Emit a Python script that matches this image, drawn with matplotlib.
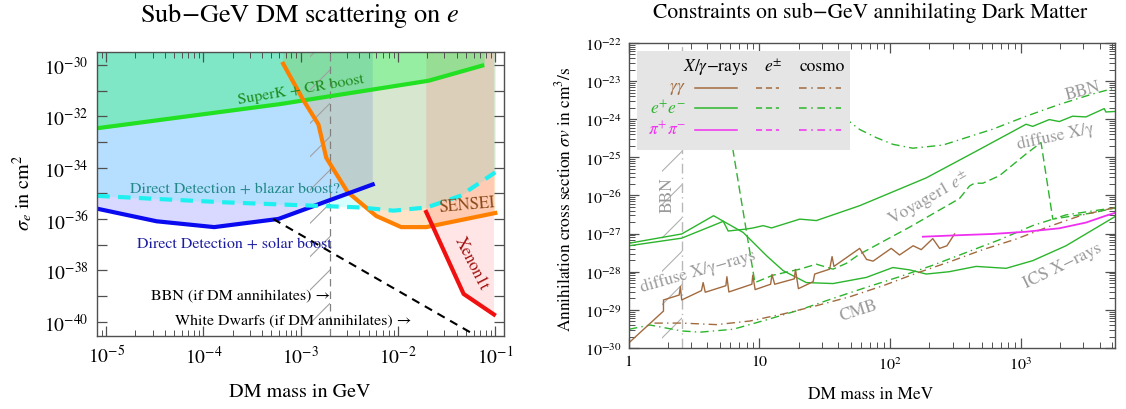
import numpy as np
import matplotlib
matplotlib.use("Agg")
import matplotlib.pyplot as plt
from matplotlib.ticker import FixedLocator, FuncFormatter, LogLocator, NullFormatter
from matplotlib.patches import Rectangle

plt.rcParams['font.family'] = ['STIXGeneral', 'DejaVu Serif']
plt.rcParams['mathtext.fontset'] = 'stix'
plt.rcParams['hatch.linewidth'] = 0.8

# ---------------- Left panel data (mass in GeV, sigma_e in cm^2) ----------------
superk_m = [8.1e-6, 6.1e-4, 2.06e-2, 7.7e-2]
superk_s = [3.4e-33, 2.95e-32, 2.4e-31, 9.8e-31]

sensei_m = [6.6e-4, 1.06e-3, 1.52e-3, 1.83e-3, 3.04e-3, 5.98e-3, 1.08e-2, 1.95e-2, 0.1]
sensei_s = [1.1e-30, 4.3e-32, 4.8e-33, 2.4e-34, 1.1e-35, 1.3e-36, 4.8e-37, 4.8e-37, 1.7e-36]

solar_m = [8.1e-6, 3.3e-5, 1.29e-4, 5.9e-4, 5.5e-3]
solar_s = [2.5e-36, 8.1e-37, 4.8e-37, 1.0e-36, 2.2e-35]

blazar_m = [8.1e-6, 3.6e-5, 1.73e-4, 8.4e-4, 4.1e-3, 9.0e-3, 1.98e-2, 4.36e-2, 0.1]
blazar_s = [7.9e-36, 5.9e-36, 4.4e-36, 3.5e-36, 2.8e-36, 2.1e-36, 2.8e-36, 7.9e-36, 6.5e-35]

xenon_m = [1.95e-2, 4.73e-2, 9.7e-2]
xenon_s = [1.86e-36, 1.2e-39, 1.9e-40]

wd_m = [5.2e-4, 5.5e-2]
wd_s = [1.0e-36, 3.9e-41]

bbn_left = [1.25e-3, 2.0e-3]

# ---------------- Right panel data (mass in MeV, sigma v in cm^3/s) ----------------
ee_xray_m = [1.01, 2.55, 5.3, 5.78, 7.98, 8.97, 10.7, 12.4, 20.4, 27.3, 58.5, 189, 455,
             1096, 1230, 1648, 1968, 2483, 3141, 4335, 4467, 5250]
ee_xray_s = [4.8e-28, 7.6e-28, 2.1e-27, 1.17e-27, 1.32e-27, 1.41e-27, 1.62e-27, 1.41e-27,
             2.4e-27, 2.2e-27, 5.4e-27, 2.9e-26, 1.45e-25, 7.4e-25, 6.5e-25, 9.8e-25,
             8.7e-25, 1.2e-24, 1.15e-24, 1.9e-24, 1.55e-24, 1.6e-24]

ee_ics_m = [1.01, 2.55, 4.47, 7.53, 11.4, 15.2, 22.9, 36.6, 65.8, 105, 141, 189, 282,
            455, 771, 1230, 2213, 5250]
ee_ics_s = [5.6e-28, 9.8e-28, 2.95e-27, 1.07e-27, 2.6e-28, 1.07e-28, 5.2e-29, 4.9e-29,
            7.1e-29, 1.29e-28, 1.12e-28, 8.7e-29, 1.0e-28, 1.38e-28, 1.23e-28, 1.95e-28,
            4.8e-28, 2.8e-27]

ee_voy_m = [5.62, 9.25, 12.7, 20.4, 27.3, 36.6, 46.3, 58.5, 141, 339, 405, 442, 512,
            685, 1096, 1426, 1754, 2630, 3532, 5250]
ee_voy_s = [1.6e-24, 5.2e-29, 8.1e-29, 1.17e-28, 1.58e-28, 1.17e-28, 1.66e-28, 2.9e-28,
            1.48e-27, 8.3e-27, 1.78e-26, 2.1e-26, 2.1e-26, 3.3e-26, 1.23e-25, 2.45e-25,
            2.4e-27, 3.0e-27, 3.5e-27, 4.7e-27]

ee_bbn_m = [44.7, 58.5, 78.3, 105, 149, 253, 610, 1096, 1968, 3532, 5250]
ee_bbn_s = [1.1e-24, 5.4e-25, 3.3e-25, 2.2e-25, 1.74e-25, 2.1e-25, 5.5e-25, 1.2e-24,
            2.45e-24, 4.6e-24, 6.6e-24]

ee_cmb_m = [1.01, 1.46, 2.55, 3.52, 6.31, 11.4, 20.4, 36.6, 65.8, 118, 212, 382, 686,
            1230, 2213, 5250]
ee_cmb_s = [3.1e-30, 4.0e-30, 2.8e-30, 2.6e-30, 3.1e-30, 5.5e-30, 1.0e-29, 2.0e-29,
            3.9e-29, 7.4e-29, 1.48e-28, 3.2e-28, 6.9e-28, 1.62e-27, 3.1e-27, 4.8e-27]

gg_cmb_m = [1.58, 2.55, 4.71, 8.47, 15.2, 27.4, 49.1, 88.3, 158, 285, 512, 920, 1652,
            2965, 5250]
gg_cmb_s = [4.5e-30, 4.5e-30, 4.1e-30, 5.1e-30, 7.8e-30, 1.29e-29, 2.2e-29, 4.3e-29,
            9.1e-29, 1.82e-28, 3.8e-28, 7.2e-28, 1.55e-27, 3.1e-27, 4.8e-27]

gg_xray_m = [1.01, 1.85, 1.85, 2.44, 2.49, 2.55, 3.61, 3.72, 3.86, 5.55, 5.65, 5.85,
             8.77, 8.91, 9.29, 12.2, 12.5, 13.1, 18.5, 18.9, 19.9, 25.8, 26.5, 34.5,
             36.0, 37.2, 58.5, 66.1, 74.1, 102, 118, 150, 173, 212, 239, 272, 311]
gg_xray_s = [1.38e-30, 9.3e-30, 1.82e-29, 2.45e-29, 4.1e-29, 1.82e-29, 3.2e-29, 5.2e-29,
             2.9e-29, 4.3e-29, 7.4e-29, 2.95e-29, 4.7e-29, 8.1e-29, 3.4e-29, 4.7e-29,
             8.5e-29, 4.7e-29, 6.5e-29, 1.15e-28, 3.6e-29, 5.5e-29, 8.7e-29, 1.17e-28,
             2.5e-28, 1.38e-28, 4.1e-28, 2.1e-28, 1.9e-28, 4.1e-28, 2.75e-28, 4.8e-28,
             3.8e-28, 7.4e-28, 4.1e-28, 4.8e-28, 9.8e-28]

pipi_xray_m = [178, 339, 610, 1096, 1968, 3148, 4467, 5250]
pipi_xray_s = [8.3e-28, 9.1e-28, 9.8e-28, 1.12e-27, 1.38e-27, 1.95e-27, 2.95e-27, 3.5e-27]

bbn_right = [1.79, 2.55]

# ---------------- styles ----------------
BROWN = '#a26b3f'
GREEN = '#2cb52c'
MAGENTA = '#f030f0'
GRAYTXT = '#9a9a9a'
FRAME = '#505050'

fig = plt.figure(figsize=(11.26, 4.10), dpi=100)
axL = fig.add_axes([0.0864, 0.1773, 0.3612, 0.6941])
axR = fig.add_axes([0.5582, 0.1488, 0.4321, 0.7439])

TOP = 1e-20
# ================= LEFT =================
axL.set_xscale('log'); axL.set_yscale('log')
axL.fill_between(solar_m, solar_s, TOP, color='#0000ff', alpha=0.15, lw=0)
axL.fill_between(sensei_m, sensei_s, TOP, color='#ff8000', alpha=0.22, lw=0)
axL.fill_between(blazar_m, blazar_s, TOP, color='#00ffff', alpha=0.155, lw=0)
axL.fill_between(xenon_m, xenon_s, TOP, color='#ff0000', alpha=0.10, lw=0)
axL.fill_between(superk_m, superk_s, TOP, color='#00ff40', alpha=0.30, lw=0)

axL.axvspan(bbn_left[0], bbn_left[1], facecolor='none', edgecolor='#a0a0a0', hatch='/', lw=0)
axL.axvline(bbn_left[1], color='#808080', ls=(0, (6, 4)), lw=0.9)

axL.plot(superk_m, superk_s, color='#22e022', lw=3.0, solid_capstyle='butt')
axL.plot(sensei_m, sensei_s, color='#ff8000', lw=3.0)
axL.plot(solar_m, solar_s, color='#0a0af0', lw=3.0)
axL.plot(blazar_m, blazar_s, color='#1ef0f0', lw=3.0, ls=(0, (3, 2)))
axL.plot(xenon_m, xenon_s, color='#f01010', lw=3.0)
axL.plot(wd_m, wd_s, color='black', lw=1.5, ls=(0, (4, 3)))

axL.set_xlim(8.1e-6, 0.123)
axL.set_ylim(10**-40.57, 10**-29.49)

axL.text(1.0e-3, 1.15e-31, 'SuperK + CR boost', color='#1e8c1e', fontsize=11.5,
         rotation=9.5, ha='center', va='center')
axL.text(2.1e-4, 1.55e-35, 'Direct Detection + blazar boost?', color='#228888',
         fontsize=11.5, ha='center', va='center')
axL.text(2.1e-4, 1.12e-37, 'Direct Detection + solar boost', color='#1c1ca0',
         fontsize=11.5, ha='center', va='center')
axL.text(5.1e-2, 3.5e-36, 'SENSEI', color='#8a4a1a', fontsize=12, rotation=5,
         ha='center', va='center')
axL.text(5.75e-2, 2.0e-38, 'Xenon1t', color='#a01010', fontsize=12, rotation=-63,
         ha='center', va='center')
axL.text(2.0e-3, 1.02e-39, 'BBN (if DM annihilates) →', color='black', fontsize=11.5,
         ha='right', va='center')
axL.text(1.38e-2, 1.1e-40, 'White Dwarfs (if DM annihilates) →', color='black', fontsize=11.5,
         ha='right', va='center')

axL.yaxis.set_major_locator(FixedLocator([10.0**k for k in range(-41, -28)]))
axL.yaxis.set_major_formatter(FuncFormatter(
    lambda v, p: (r'$10^{%d}$' % int(round(np.log10(v)))) if int(round(np.log10(v))) % 2 == 0 else ''))
axL.yaxis.set_minor_locator(FixedLocator([]))
axL.xaxis.set_major_locator(FixedLocator([10.0**k for k in range(-6, 1)]))
axL.xaxis.set_major_formatter(FuncFormatter(lambda v, p: r'$10^{%d}$' % int(round(np.log10(v)))))
axL.xaxis.set_minor_locator(LogLocator(base=10, subs=np.arange(2, 10), numticks=20))
axL.xaxis.set_minor_formatter(NullFormatter())
axL.tick_params(which='both', direction='in', top=True, right=True, color=FRAME)
axL.tick_params(which='major', length=7, width=0.9, labelsize=14, pad=6)
axL.tick_params(which='minor', length=4, width=0.7)
for s in axL.spines.values():
    s.set_color(FRAME); s.set_linewidth(1.0)

fig.text(0.2665, 0.962, 'Sub−GeV DM scattering on $e$', fontsize=19, ha='center', va='center')
fig.text(0.2663, 0.042, 'DM mass in GeV', fontsize=14.5, ha='center', va='center')
fig.text(0.020, 0.53, r'$\sigma_e$ in cm$^2$', fontsize=14.5, rotation=90, ha='center', va='center')

# ================= RIGHT =================
axR.set_xscale('log'); axR.set_yscale('log')
axR.axvspan(bbn_right[0], bbn_right[1], facecolor='none', edgecolor='#b0b0b0', hatch='/', lw=0)
axR.axvline(bbn_right[1], color='#b8b8b8', ls=(0, (7, 3, 1, 3)), lw=1.0)

dd = (0, (6, 3, 1, 3))
axR.plot(ee_xray_m, ee_xray_s, color=GREEN, lw=1.0)
axR.plot(ee_ics_m, ee_ics_s, color=GREEN, lw=1.0)
axR.plot(ee_voy_m, ee_voy_s, color=GREEN, lw=1.0, ls=(0, (6, 3)))
axR.plot(ee_bbn_m, ee_bbn_s, color=GREEN, lw=1.0, ls=dd)
axR.plot(ee_cmb_m, ee_cmb_s, color=GREEN, lw=1.0, ls=dd)
axR.plot(gg_cmb_m, gg_cmb_s, color=BROWN, lw=1.0, ls=dd)
axR.plot(gg_xray_m, gg_xray_s, color=BROWN, lw=1.0)
axR.plot(pipi_xray_m, pipi_xray_s, color=MAGENTA, lw=1.3)

axR.set_xlim(1, 5250)
axR.set_ylim(1e-30, 1e-22)

axR.text(2.0, 1.1e-26, 'BBN', color=GRAYTXT, fontsize=12.5, rotation=90, ha='center', va='center')
axR.text(3.4, 1.05e-28, 'diffuse X/γ−rays', color=GRAYTXT, fontsize=12.5, rotation=16,
         ha='center', va='center')
axR.text(58, 1.0e-29, 'CMB', color=GRAYTXT, fontsize=12.5, rotation=18, ha='center', va='center')
axR.text(200, 8.9e-27, 'Voyager1 $e^{\\pm}$', color=GRAYTXT, fontsize=12.5, rotation=30,
         ha='center', va='center')
axR.text(1850, 3.7e-25, 'diffuse X/γ', color=GRAYTXT, fontsize=12.5, rotation=12,
         ha='center', va='center')
axR.text(2960, 5.6e-24, 'BBN', color=GRAYTXT, fontsize=12.5, rotation=15, ha='center', va='center')
axR.text(2080, 1.45e-28, 'ICS X−rays', color=GRAYTXT, fontsize=12.5, rotation=26,
         ha='center', va='center')

# legend box (drawn manually, in axes fraction)
T = axR.transAxes
axR.add_patch(Rectangle((0.017, 0.65), 0.438, 0.325, transform=T, facecolor='#e5e5e5',
                        edgecolor='none', zorder=10))
axR.text(0.178, 0.925, r'$X/\gamma$−rays', transform=T, fontsize=12.5, ha='center', va='center', zorder=11)
axR.text(0.298, 0.925, r'$e^{\pm}$', transform=T, fontsize=12.5, ha='center', va='center', zorder=11)
axR.text(0.398, 0.925, 'cosmo', transform=T, fontsize=12.5, ha='center', va='center', zorder=11)
rows = [(r'$\gamma\gamma$', BROWN, 0.853), (r'$e^{+}e^{-}$', GREEN, 0.787), (r'$\pi^{+}\pi^{-}$', MAGENTA, 0.716)]
for lab, col, yy in rows:
    axR.text(0.118, yy, lab, transform=T, fontsize=12.5, color=col, ha='right', va='center', zorder=11)
    axR.plot([0.137, 0.222], [yy, yy], transform=T, color=col, lw=1.1, zorder=11)
    axR.plot([0.261, 0.310], [yy, yy], transform=T, color=col, lw=1.1, ls=(0, (4, 2.5)), zorder=11)
    axR.plot([0.350, 0.437], [yy, yy], transform=T, color=col, lw=1.1, ls=(0, (5, 3, 1, 3)), zorder=11)

axR.yaxis.set_major_locator(FixedLocator([10.0**k for k in range(-30, -21)]))
axR.yaxis.set_major_formatter(FuncFormatter(lambda v, p: r'$10^{%d}$' % int(round(np.log10(v)))))
axR.yaxis.set_minor_locator(LogLocator(base=10, subs=np.arange(2, 10), numticks=20))
axR.yaxis.set_minor_formatter(NullFormatter())


def xfmt(v, p):
    k = int(round(np.log10(v)))
    return {0: '1', 1: '10'}.get(k, r'$10^{%d}$' % k)


axR.xaxis.set_major_locator(FixedLocator([1, 10, 100, 1000]))
axR.xaxis.set_major_formatter(FuncFormatter(xfmt))
axR.xaxis.set_minor_locator(LogLocator(base=10, subs=np.arange(2, 10), numticks=20))
axR.xaxis.set_minor_formatter(NullFormatter())
axR.tick_params(which='both', direction='in', top=True, right=True, color=FRAME)
axR.tick_params(which='major', length=7, width=0.9, labelsize=11.5, pad=5)
axR.tick_params(which='minor', length=4, width=0.7)
for s in axR.spines.values():
    s.set_color(FRAME); s.set_linewidth(1.0)

fig.text(0.773, 0.968, 'Constraints on sub−GeV annihilating Dark Matter', fontsize=15.5,
         ha='center', va='center')
fig.text(0.773, 0.037, 'DM mass in MeV', fontsize=12.5, ha='center', va='center')
fig.text(0.5015, 0.515, r'Annihilation cross section $\sigma v$ in cm$^3$/s', fontsize=12.5,
         rotation=90, ha='center', va='center')

fig.savefig('out.png', dpi=100)
